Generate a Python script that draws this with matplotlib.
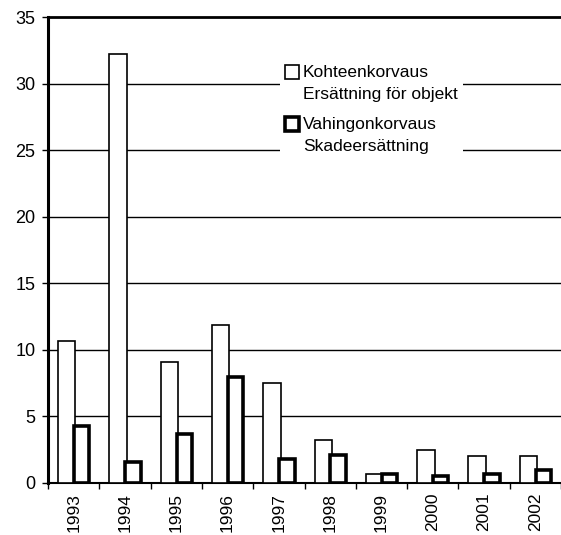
import matplotlib
matplotlib.use("Agg")
import matplotlib.pyplot as plt
from matplotlib.patches import Rectangle
from matplotlib.legend_handler import HandlerPatch, update_from_first_child
from matplotlib.container import BarContainer
import numpy as np

years = ["1993", "1994", "1995", "1996", "1997", "1998", "1999", "2000", "2001", "2002"]
kohteenkorvaus = [10.7, 32.2, 9.1, 11.9, 7.5, 3.2, 0.7, 2.5, 2.0, 2.0]
vahingonkorvaus = [4.3, 1.6, 3.7, 8.0, 1.8, 2.1, 0.7, 0.5, 0.7, 1.0]
label_k = "Kohteenkorvaus\nErsättning för objekt"
label_v = "Vahingonkorvaus\nSkadeersättning"

plt.rcParams['font.family'] = ['Liberation Sans', 'DejaVu Sans']

fig = plt.figure(figsize=(5.61, 5.35), dpi=100)
ax = fig.add_axes([0.0856, 0.0972, 1.0 - 0.0856, 0.968 - 0.0972])

x = np.arange(len(years))
ax.bar(x - 0.135, kohteenkorvaus, width=0.34, facecolor='white', edgecolor='black',
       linewidth=1.2, label=label_k, zorder=3)
ax.bar(x + 0.155, vahingonkorvaus, width=0.30, facecolor='white', edgecolor='black',
       linewidth=2.6, label=label_v, zorder=3)

ax.set_ylim(0, 35)
ax.set_xlim(-0.5, 9.33)
ax.set_yticks(np.arange(0, 36, 5))
ax.tick_params(axis='y', labelsize=13, length=4, width=1, direction='out', pad=5)
ax.set_xticks(x)
ax.set_xticklabels(years, rotation=90, fontsize=12.5)
ax.tick_params(axis='x', length=0, pad=7)
ax.set_xticks(np.arange(-0.5, 10, 1), minor=True)
ax.tick_params(axis='x', which='minor', length=4, width=1, direction='out')

for yv in range(5, 35, 5):
    ax.axhline(yv, color='black', linewidth=1.0, zorder=1)

ax.spines['right'].set_visible(False)
ax.spines['left'].set_linewidth(2.2)
ax.spines['top'].set_linewidth(2.0)
ax.spines['bottom'].set_linewidth(1.5)


def top_square(legend, orig_handle, xdescent, ydescent, width, height, fontsize):
    s = 0.8 * fontsize
    return Rectangle((-xdescent, -ydescent + height - s + 0.1 * fontsize), s, s)


leg = ax.legend(loc='upper left', bbox_to_anchor=(0.483, 0.905), bbox_transform=fig.transFigure,
                fontsize=12.5, frameon=True, edgecolor='none', facecolor='white', framealpha=1,
                handlelength=0.8, handleheight=2.7, handletextpad=0.25, labelspacing=0.85,
                borderpad=0.3, fancybox=False,
                handler_map={BarContainer: HandlerPatch(patch_func=top_square,
                                                        update_func=update_from_first_child)})
for t in leg.get_texts():
    t.set_linespacing(1.6)
leg.set_zorder(5)

fig.savefig("out.png", dpi=100)
